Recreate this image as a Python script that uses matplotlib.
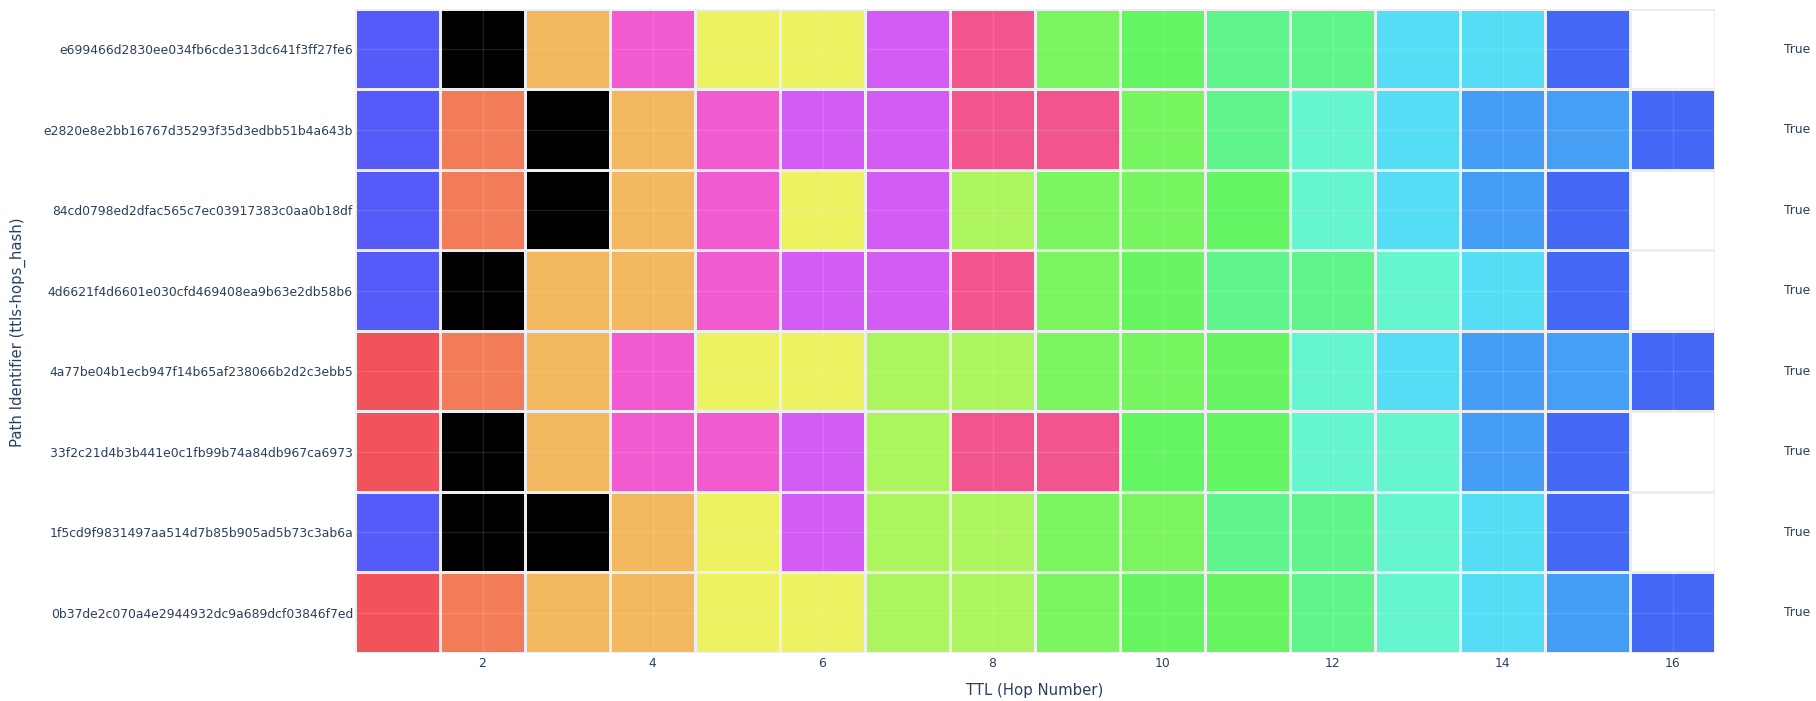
"""
Traceroute path heatmap: one row per distinct path, one cell per hop (TTL).

Cell colour encodes the hue assigned to the responding hop, black marks a
hop that did not answer, and a blank cell means the path ended earlier.
"""

import numpy as np
import matplotlib.pyplot as plt
from matplotlib.colors import LinearSegmentedColormap, Normalize

# Path identifiers, top row first
paths = [
    "e699466d2830ee034fb6cde313dc641f3ff27fe6",
    "e2820e8e2bb16767d35293f35d3edbb51b4a643b",
    "84cd0798ed2dfac565c7ec03917383c0aa0b18df",
    "4d6621f4d6601e030cfd469408ea9b63e2db58b6",
    "4a77be04b1ecb947f14b65af238066b2d2c3ebb5",
    "33f2c21d4b3b441e0c1fb99b74a84db967ca6973",
    "1f5cd9f9831497aa514d7b85b905ad5b73c3ab6a",
    "0b37de2c070a4e2944932dc9a689dcf03846f7ed",
]
reached = [True, True, True, True, True, True, True, True]
ttls = list(range(1, 17))

# hop hue in degrees, -1 = no reply (black), nan = no hop (blank)
N = np.nan
hop_hue = [
    [238, -1, 36, 314, 62, 62, 286, 338, 108, 120, 138, 137, 190, 190, 227, N],
    [238, 14, -1, 36, 314, 286, 286, 338, 338, 110, 138, 164, 190, 210, 209, 227],
    [238, 14, -1, 36, 314, 62, 286, 89, 108, 110, 120, 164, 190, 210, 227, N],
    [238, -1, 36, 36, 314, 286, 286, 338, 108, 118, 138, 137, 164, 190, 227, N],
    [358, 14, 36, 314, 62, 62, 89, 89, 108, 110, 118, 164, 190, 210, 209, 227],
    [358, -1, 36, 314, 314, 286, 89, 338, 338, 120, 120, 164, 164, 210, 227, N],
    [238, -1, -1, 36, 62, 286, 89, 89, 108, 108, 138, 137, 164, 190, 227, N],
    [358, 14, 36, 36, 62, 62, 89, 89, 108, 118, 118, 137, 164, 190, 210, 227],
]

TEXT = "#2a3f5f"

# colour wheel used for the hop hues (degree -> colour)
HUE_WHEEL = [
    (0, "#f25255"), (14, "#f27b58"), (36, "#f2b75f"), (62, "#ecf262"),
    (89, "#adf55e"), (108, "#7af560"), (120, "#64f562"), (138, "#60f58c"),
    (164, "#65f5cf"), (190, "#55ddf5"), (210, "#459cf5"), (227, "#4268f5"),
    (238, "#565af9"), (286, "#d35cf5"), (314, "#f25bcf"), (338, "#f2558e"),
    (360, "#f25255"),
]


def hue_cmap():
    cmap = LinearSegmentedColormap.from_list(
        "hops", [(deg / 360, col) for deg, col in HUE_WHEEL], N=721)
    cmap.set_under("black")
    cmap.set_bad("white")
    return cmap


def plot_paths():
    fig = plt.figure(figsize=(18.16, 7.01), dpi=100)
    ax = fig.add_axes([0.1955, 0.0685, 0.7489, 0.9187])

    z = np.ma.masked_invalid(np.array(hop_hue, dtype=float))
    x_edges = np.arange(len(ttls) + 1) + 0.5
    y_edges = np.arange(len(paths) + 1) - 0.5

    # faint row separators show through the blank cells
    for y in y_edges:
        ax.axhline(y, color="#ebf0f8", lw=0.8, zorder=0)
    ax.axvline(x_edges[-1], color="#ebf0f8", lw=0.8, zorder=0)

    ax.pcolormesh(x_edges, y_edges, z, cmap=hue_cmap(), norm=Normalize(0, 360),
                  edgecolors="#eeeef2", linewidth=0.8, zorder=1)

    # grid lines faintly visible through the cells
    ax.vlines(ttls[1::2], y_edges[0], y_edges[-1], color="white", alpha=0.12, lw=1, zorder=2)
    ax.hlines(range(len(paths)), x_edges[0], x_edges[-1], color="white", alpha=0.12, lw=1, zorder=2)

    ax.set_xlim(x_edges[0], x_edges[-1])
    ax.set_ylim(y_edges[-1], y_edges[0])
    ax.set_xticks(ttls[1::2])
    ax.set_yticks(range(len(paths)))
    ax.set_yticklabels(paths)
    ax.tick_params(axis="x", length=0, pad=3, labelsize=8.9, labelcolor=TEXT)
    ax.tick_params(axis="y", length=0, pad=1.5, labelsize=8.9, labelcolor=TEXT)
    for s in ax.spines.values():
        s.set_visible(False)

    for i, flag in enumerate(reached):
        ax.text(1.051, i, str(flag), transform=ax.get_yaxis_transform(),
                ha="left", va="center", fontsize=8.9, color=TEXT)

    fig.text(1035 / 1816, 1 - 691 / 701, "TTL (Hop Number)", ha="center", va="center",
             fontsize=10.7, color=TEXT)
    fig.text(18 / 1816, 1 - 332 / 701, "Path Identifier (ttls-hops_hash)", ha="center",
             va="center", rotation=90, fontsize=10.7, color=TEXT)

    fig.savefig("out.png", dpi=100)


if __name__ == "__main__":
    plot_paths()
